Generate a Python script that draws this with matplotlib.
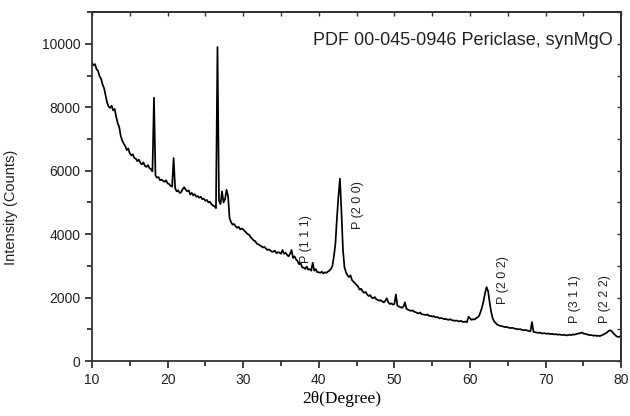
"""XRD pattern of MgO (periclase)"""

import numpy as np
import matplotlib
matplotlib.use('Agg')
import matplotlib.pyplot as plt
from matplotlib.ticker import MultipleLocator

# 2-theta grid (0.2 degree step) and intensity
two_theta = np.round(np.arange(10.0, 80.01, 0.2), 1)

intensity = [
    9400, 9320, 9360, 9200, 9150, 8980, 8900, 8720, 8600, 8380,   # 10.0 - 11.8
    8150, 8020, 7980, 8050, 7900, 7950, 7700, 7500, 7380, 7100,   # 12.0 - 13.8
    6950, 6850, 6780, 6650, 6700, 6550, 6480, 6520, 6400, 6380,   # 14.0 - 15.8
    6300, 6350, 6250, 6200, 6260, 6150, 6120, 6180, 6080, 6050,   # 16.0 - 17.8
    5980, 8300, 5850, 5780, 5800, 5700, 5720, 5680, 5650, 5700,   # 18.0 - 19.8
    5600, 5580, 5520, 5500, 6400, 5450, 5350, 5380, 5300, 5320,   # 20.0 - 21.8
    5420, 5480, 5400, 5350, 5380, 5250, 5300, 5220, 5260, 5180,   # 22.0 - 23.8
    5200, 5150, 5180, 5100, 5120, 5050, 5080, 5000, 5020, 4950,   # 24.0 - 25.8
    4900, 4880, 4820, 9900, 5050, 4950, 5350, 5000, 5100, 5400,   # 26.0 - 27.8
    5200, 4500, 4380, 4300, 4320, 4250, 4200, 4230, 4150, 4180,   # 28.0 - 29.8
    4150, 4100, 4050, 4000, 3980, 3900, 3850, 3800, 3780, 3700,   # 30.0 - 31.8
    3680, 3650, 3620, 3580, 3600, 3550, 3500, 3520, 3480, 3450,   # 32.0 - 33.8
    3450, 3480, 3400, 3430, 3420, 3380, 3500, 3380, 3420, 3350,   # 34.0 - 35.8
    3300, 3380, 3500, 3250, 3300, 3200, 3150, 3050, 3100, 2950,   # 36.0 - 37.8
    2950, 2900, 2980, 2880, 2900, 2850, 3100, 2850, 2900, 2800,   # 38.0 - 39.8
    2800, 2780, 2820, 2760, 2800, 2780, 2820, 2850, 2900, 3000,   # 40.0 - 41.8
    3300, 3700, 4500, 5200, 5750, 4700, 3500, 2950, 2800, 2700,   # 42.0 - 43.8
    2650, 2700, 2550, 2500, 2450, 2400, 2350, 2250, 2280, 2200,   # 44.0 - 45.8
    2150, 2180, 2100, 2050, 2080, 2000, 1980, 2020, 1950, 1930,   # 46.0 - 47.8
    1900, 1920, 1880, 1850, 1900, 1980, 1850, 1800, 1820, 1780,   # 48.0 - 49.8
    1800, 2100, 1750, 1720, 1700, 1680, 1720, 1850, 1650, 1620,   # 50.0 - 51.8
    1600, 1580, 1600, 1560, 1540, 1520, 1500, 1530, 1480, 1470,   # 52.0 - 53.8
    1460, 1450, 1470, 1420, 1430, 1400, 1420, 1380, 1390, 1370,   # 54.0 - 55.8
    1350, 1360, 1340, 1320, 1330, 1310, 1300, 1320, 1290, 1280,   # 56.0 - 57.8
    1270, 1280, 1260, 1250, 1270, 1240, 1230, 1250, 1220, 1400,   # 58.0 - 59.8
    1350, 1300, 1320, 1310, 1350, 1380, 1420, 1550, 1700, 1900,   # 60.0 - 61.8
    2150, 2330, 2200, 1850, 1550, 1350, 1250, 1200, 1150, 1130,   # 62.0 - 63.8
    1110, 1100, 1090, 1070, 1080, 1060, 1050, 1040, 1050, 1030,   # 64.0 - 65.8
    1020, 1010, 1000, 1010, 990, 980, 970, 980, 960, 950,         # 66.0 - 67.8
    940, 1230, 920, 910, 900, 890, 900, 880, 870, 880,            # 68.0 - 69.8
    870, 860, 870, 850, 860, 850, 840, 850, 830, 840,             # 70.0 - 71.8
    830, 820, 830, 820, 810, 820, 830, 820, 840, 830,             # 72.0 - 73.8
    850, 860, 870, 880, 900, 870, 860, 850, 830, 820,             # 74.0 - 75.8
    820, 810, 800, 810, 790, 800, 790, 810, 830, 860,             # 76.0 - 77.8
    880, 920, 960, 970, 930, 870, 820, 780, 760, 770,             # 78.0 - 79.8
    800,                                                          # 80.0
]

# Periclase reflections: label, position, bottom of the label
peak_labels = ['P (1 1 1)', 'P (2 0 0)', 'P (2 0 2)', 'P (3 1 1)', 'P (2 2 2)']
peak_pos = [38.3, 45.2, 64.4, 73.9, 77.9]
peak_label_y = [3100, 4150, 1800, 1200, 1200]

card_text = 'PDF 00-045-0946 Periclase, synMgO'

edge = '#333333'
plt.rcParams['font.family'] = ['Liberation Sans', 'DejaVu Sans']

fig = plt.figure(figsize=(6.3, 4.16), dpi=100)
ax = fig.add_axes([0.146, 0.132, 0.840, 0.839])

ax.plot(two_theta, intensity, color='black', linewidth=1.25)

ax.set_xlim(10, 80)
ax.set_ylim(0, 11000)

# Bottom / left: outward ticks with labels
ax.xaxis.set_major_locator(MultipleLocator(10))
ax.xaxis.set_minor_locator(MultipleLocator(5))
ax.yaxis.set_major_locator(MultipleLocator(2000))
ax.yaxis.set_minor_locator(MultipleLocator(1000))
ax.tick_params(which='major', direction='out', length=5, width=1.3, color=edge, labelsize=10,
               labelcolor='#222222')
ax.tick_params(which='minor', direction='out', length=3.5, width=1.3, color=edge)

# Top / right: short inward ticks, no labels
top = ax.secondary_xaxis('top')
top.xaxis.set_major_locator(MultipleLocator(5))
top.tick_params(direction='in', length=3, width=1, color=edge, labeltop=False)
right = ax.secondary_yaxis('right')
right.yaxis.set_major_locator(MultipleLocator(1000))
right.tick_params(direction='in', length=3, width=1, color=edge, labelright=False)

for a in (ax, top, right):
    for s in a.spines.values():
        s.set_color(edge)
        s.set_linewidth(1.3)

ax.set_xlabel('2θ(Degree)', family=['Liberation Serif', 'DejaVu Serif'], fontsize=12.5)
ax.xaxis.set_label_coords(0.472, -0.085)
ax.set_ylabel('Intensity (Counts)', fontsize=10.5, color='#222222')
ax.yaxis.set_label_coords(-0.14, 0.44)

for lab, x, y in zip(peak_labels, peak_pos, peak_label_y):
    ax.text(x, y, lab, rotation=90, ha='center', va='bottom', fontsize=9, color='#222222')

ax.text(0.985, 0.905, card_text, transform=ax.transAxes, ha='right', va='baseline', fontsize=13,
        color='#222222')

fig.savefig('out.png', dpi=100)
